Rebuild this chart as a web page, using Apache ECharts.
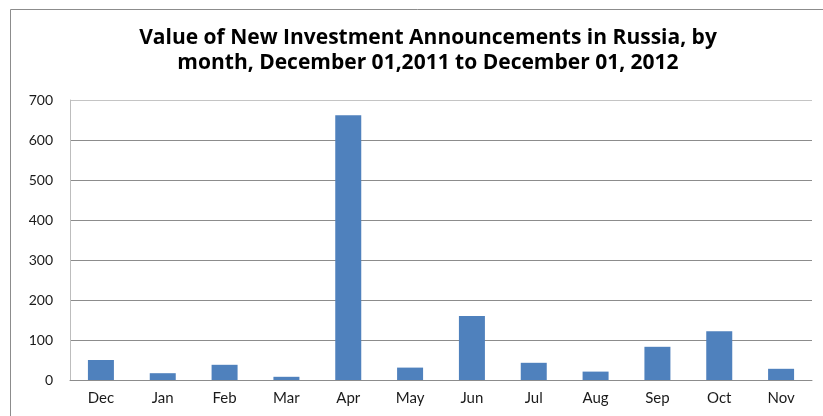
<!DOCTYPE html>
<html>
<head>
<meta charset="utf-8">
<script src="https://cdn.jsdelivr.net/npm/echarts@6/dist/echarts.min.js"></script>
<style>
  html, body { margin: 0; padding: 0; background: #fff; }
  #chart { width: 823px; height: 416px; }
</style>
</head>
<body>
<div id="chart"></div>
<script>
// Monthly value of new investment announcements
const months = ['Dec', 'Jan', 'Feb', 'Mar', 'Apr', 'May', 'Jun', 'Jul', 'Aug', 'Sep', 'Oct', 'Nov'];
const values = [50, 17, 38, 8, 662, 31, 160, 43, 21, 83, 122, 28];
const titleLines = [
  'Value of New Investment Announcements in Russia, by',
  'month, December 01,2011 to December 01, 2012'
];

const axisFont = 'Lato, "Open Sans", sans-serif';
const titleFont = '"Open Sans", Lato, sans-serif';
const chart = echarts.init(document.getElementById('chart'), null, { renderer: 'canvas' });

chart.setOption({
  backgroundColor: '#ffffff',
  animation: false,
  title: {
    text: titleLines.join('\n'),
    left: 423,
    textAlign: 'center',
    top: 21,
    textStyle: {
      fontFamily: titleFont,
      fontWeight: 'bold',
      fontSize: 21,
      lineHeight: 25,
      color: '#000'
    }
  },
  graphic: [{
    type: 'rect',
    shape: { x: 10.5, y: 9.5, width: 900, height: 500 },
    style: { fill: 'none', stroke: '#8c8c8c', lineWidth: 1 },
    silent: true
  }],
  grid: { left: 70, right: 11, top: 100, bottom: 36 },
  xAxis: {
    type: 'category',
    data: months,
    axisLine: { lineStyle: { color: '#8c8c8c', width: 1 } },
    axisTick: { show: false },
    axisLabel: { fontFamily: axisFont, fontSize: 15, color: '#1a1a1a', margin: 11 }
  },
  yAxis: {
    type: 'value',
    min: 0,
    max: 700,
    interval: 100,
    axisLine: { show: true, lineStyle: { color: '#bdbdbd', width: 1 } },
    axisTick: { show: false },
    axisLabel: { fontFamily: axisFont, fontSize: 14, color: '#1a1a1a', margin: 17 },
    splitLine: {
      lineStyle: {
        color: ['#8c8c8c', '#8c8c8c', '#8c8c8c', '#8c8c8c', '#8c8c8c', '#8c8c8c', '#8c8c8c', '#c4c4c4'],
        width: 1
      }
    }
  },
  series: [{
    type: 'bar',
    data: values,
    barWidth: 26,
    itemStyle: { color: '#4f81bd' }
  }]
});
</script>
</body>
</html>
